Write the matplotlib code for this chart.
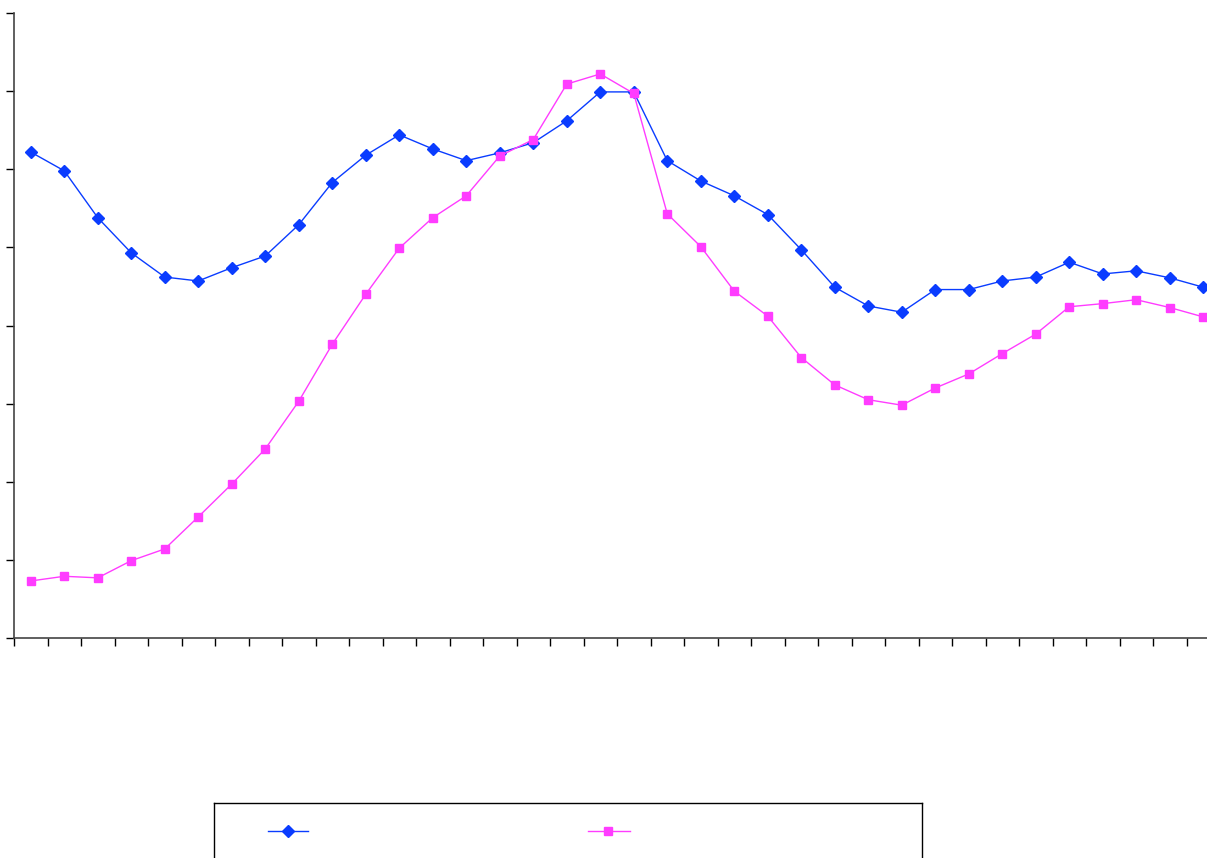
import numpy as np
import matplotlib
matplotlib.use("Agg")
import matplotlib.pyplot as plt

# series values (arbitrary units, 8 gridless intervals on the y axis)
blue = [6.22, 5.98, 5.38, 4.93, 4.62, 4.57, 4.74, 4.89, 5.29, 5.83, 6.18, 6.44,
        6.26, 6.11, 6.21, 6.34, 6.62, 6.99, 6.99, 6.11, 5.85, 5.66, 5.42, 4.97,
        4.49, 4.25, 4.17, 4.46, 4.46, 4.57, 4.62, 4.81, 4.66, 4.70, 4.61, 4.49]
pink = [0.73, 0.79, 0.77, 0.99, 1.14, 1.55, 1.97, 2.42, 3.03, 3.76, 4.40, 4.99,
        5.38, 5.66, 6.17, 6.38, 7.09, 7.22, 6.97, 5.43, 5.01, 4.44, 4.12, 3.59,
        3.24, 3.05, 2.98, 3.20, 3.38, 3.64, 3.89, 4.24, 4.28, 4.33, 4.23, 4.11]

BLUE = "#0a3cff"
PINK = "#ff3cff"

W, H = 1207, 858
fig = plt.figure(figsize=(W / 100, H / 100), dpi=100)

# main plot; its right end runs past the image edge like the reference
ax = fig.add_axes([14 / W, (H - 638) / H, (1220 - 14) / W, (638 - 13) / H])
x = np.arange(len(blue))
ax.plot(x, blue, color=BLUE, lw=1, marker="D", ms=6, mfc=BLUE, mec=BLUE)
ax.plot(x, pink, color=PINK, lw=1, marker="s", ms=6, mfc=PINK, mec=PINK)

ax.set_xlim(-0.5, len(blue) - 0.5)
ax.set_ylim(0, 8)
ax.set_xticks(np.arange(-0.5, len(blue), 1.0))
ax.set_yticks(np.arange(0, 9, 1))
ax.set_xticklabels([])
ax.set_yticklabels([])
ax.tick_params(direction="out", length=6, width=1, color="black")
for side in ("top", "right"):
    ax.spines[side].set_visible(False)
for side in ("left", "bottom"):
    ax.spines[side].set_color("#444444")
    ax.spines[side].set_linewidth(1.2)

# legend box (no labels in the source), cut off at the bottom
lg = fig.add_axes([214 / W, -20 / H, (922 - 214) / W, (858 - 803 + 20) / H])
lg.set_xlim(214, 922)
lg.set_ylim(858 + 20, 803)
lg.set_xticks([])
lg.set_yticks([])
for s in lg.spines.values():
    s.set_color("black")
    s.set_linewidth(1)
lg.plot([268, 308], [831, 831], color=BLUE, lw=1)
lg.plot([288], [831], marker="D", ms=6, color=BLUE)
lg.plot([588, 630], [831, 831], color=PINK, lw=1)
lg.plot([608], [831], marker="s", ms=6, color=PINK)

fig.savefig("out.png", dpi=100)
